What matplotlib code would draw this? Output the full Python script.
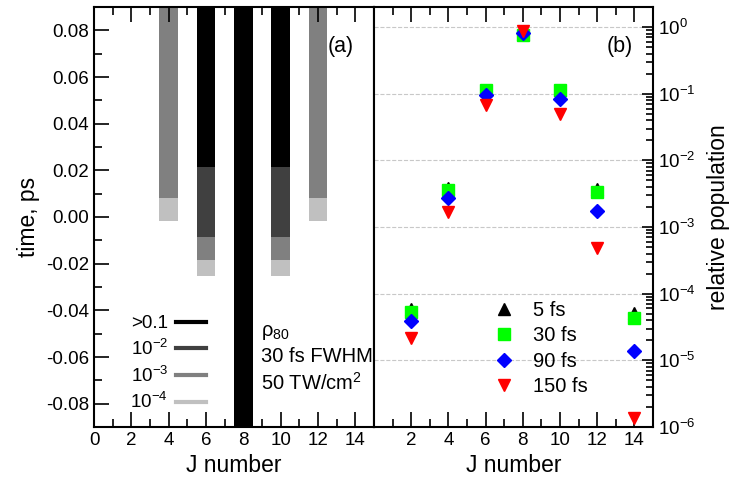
import numpy as np
import matplotlib
matplotlib.use("Agg")
import matplotlib.pyplot as plt
from matplotlib.lines import Line2D

plt.rcParams['font.family'] = ['Liberation Sans', 'DejaVu Sans']
plt.rcParams['mathtext.fontset'] = 'custom'
plt.rcParams['mathtext.rm'] = 'Liberation Sans'
plt.rcParams['mathtext.it'] = 'Liberation Sans:italic'
plt.rcParams['font.size'] = 13

# panel (a): time at which population of level J first exceeds each threshold
J_bars = [4, 6, 8, 10, 12]
t_1e4 = [-0.0016, -0.0251, -0.1, -0.0251, -0.0016]
t_1e3 = [0.0083, -0.0184, -0.1, -0.0184, 0.0083]
t_1e2 = [np.nan, -0.0086, -0.1, -0.0086, np.nan]
t_1e1 = [np.nan, 0.0215, -0.1, 0.0215, np.nan]
bar_top = 0.1
level_labels = ['>0.1', '$10^{-2}$', '$10^{-3}$', '$10^{-4}$']
level_colors = ['#000000', '#404040', '#808080', '#c0c0c0']

# panel (b): relative population after the pulse
J_pts = [2, 4, 6, 8, 10, 12, 14]
pop_5fs = [5.8e-5, 3.9e-3, 0.115, 0.80, 0.115, 3.7e-3, 5.2e-5]
pop_30fs = [5.3e-5, 3.6e-3, 0.113, 0.77, 0.112, 3.3e-3, 4.3e-5]
pop_90fs = [3.9e-5, 2.7e-3, 0.097, 0.82, 0.083, 1.76e-3, 1.38e-5]
pop_150fs = [2.2e-5, 1.68e-3, 0.068, 0.86, 0.050, 4.9e-4, 1.38e-6]
pulse_labels = ['5 fs', '30 fs', '90 fs', '150 fs']

fig = plt.figure(figsize=(7.37, 4.88), dpi=100)
axa = fig.add_axes([94/737, 61/488, 280/737, 420/488])
axb = fig.add_axes([374/737, 61/488, 279/737, 420/488])

# ---- panel (a)
for t, c in zip([t_1e4, t_1e3, t_1e2, t_1e1], level_colors[::-1]):
    t = np.array(t)
    ok = ~np.isnan(t)
    axa.bar(np.array(J_bars)[ok], bar_top - t[ok], bottom=t[ok], width=1.0,
            color=c, linewidth=0)

axa.set_xlim(0, 15)
axa.set_ylim(-0.09, 0.09)
axa.set_xticks(np.arange(0, 15, 2))
axa.set_xticks(np.arange(1, 15, 2), minor=True)
axa.set_yticks(np.arange(-0.08, 0.081, 0.02))
axa.set_yticks(np.arange(-0.09, 0.091, 0.01), minor=True)
axa.set_yticklabels(['%.2f' % v for v in np.arange(-0.08, 0.081, 0.02)])
axa.tick_params(which='both', direction='in', top=True, right=False, width=1.2,
                labelsize=13.5)
axa.tick_params(which='major', length=11)
axa.tick_params(which='minor', length=5.5)
axa.set_xlabel('J number', fontsize=16.5)
axa.set_ylabel('time, ps', fontsize=16.5)
axa.text(0.88, 0.907, '(a)', transform=axa.transAxes, ha='center', va='center', fontsize=15.5)
axa.text(0.595, 0.224, 'ρ$_{80}$', transform=axa.transAxes, ha='left', va='center', fontsize=14.5)
axa.text(0.595, 0.167, '30 fs FWHM', transform=axa.transAxes, ha='left', va='center', fontsize=14.5)
axa.text(0.595, 0.105, '50 TW/cm$^{2}$', transform=axa.transAxes, ha='left', va='center', fontsize=14.5)

handles = [Line2D([], [], color=c, lw=3) for c in level_colors]
axa.legend(handles, level_labels, loc='lower left', bbox_to_anchor=(0.07, -0.005),
           frameon=False, markerfirst=False, handlelength=1.6, handletextpad=0.4,
           labelspacing=0.35, fontsize=13.5)

# ---- panel (b)
axb.set_yscale('log')
axb.plot(J_pts, pop_5fs, '^', color='black', ms=9, label=pulse_labels[0])
axb.plot(J_pts, pop_30fs, 's', color='#00ff00', ms=8, label=pulse_labels[1])
axb.plot(J_pts, pop_90fs, 'D', color='#0000ff', ms=7.5, label=pulse_labels[2])
axb.plot(J_pts, pop_150fs, 'v', color='#ff0000', ms=9, label=pulse_labels[3])
axb.set_xlim(0, 15)
axb.set_ylim(1e-6, 2)
axb.set_xticks(np.arange(2, 15, 2))
axb.set_xticks(np.arange(1, 15, 2), minor=True)
axb.set_yticks([1e-6, 1e-5, 1e-4, 1e-3, 1e-2, 1e-1, 1e0])
axb.yaxis.set_ticks_position('right')
axb.yaxis.set_label_position('right')
axb.tick_params(which='both', direction='in', top=True, left=False, right=True, width=1.2,
                labelsize=13.5)
axb.tick_params(axis='x', which='major', length=11)
axb.tick_params(axis='x', which='minor', length=5.5)
axb.tick_params(axis='y', which='major', length=8)
axb.tick_params(axis='y', which='minor', length=5)
axb.grid(axis='y', which='major', ls='--', color='#c8c8c8', lw=0.8)
axb.set_xlabel('J number', fontsize=16.5)
axb.set_ylabel('relative population', fontsize=16.5, labelpad=8)
axb.text(0.88, 0.907, '(b)', transform=axb.transAxes, ha='center', va='center', fontsize=15.5)
axb.legend(loc='lower left', bbox_to_anchor=(0.33, 0.03), frameon=False,
           handletextpad=0.4, labelspacing=0.32, fontsize=14.5)

for ax in (axa, axb):
    for s in ax.spines.values():
        s.set_linewidth(1.5)

fig.savefig('out.png', dpi=100)
